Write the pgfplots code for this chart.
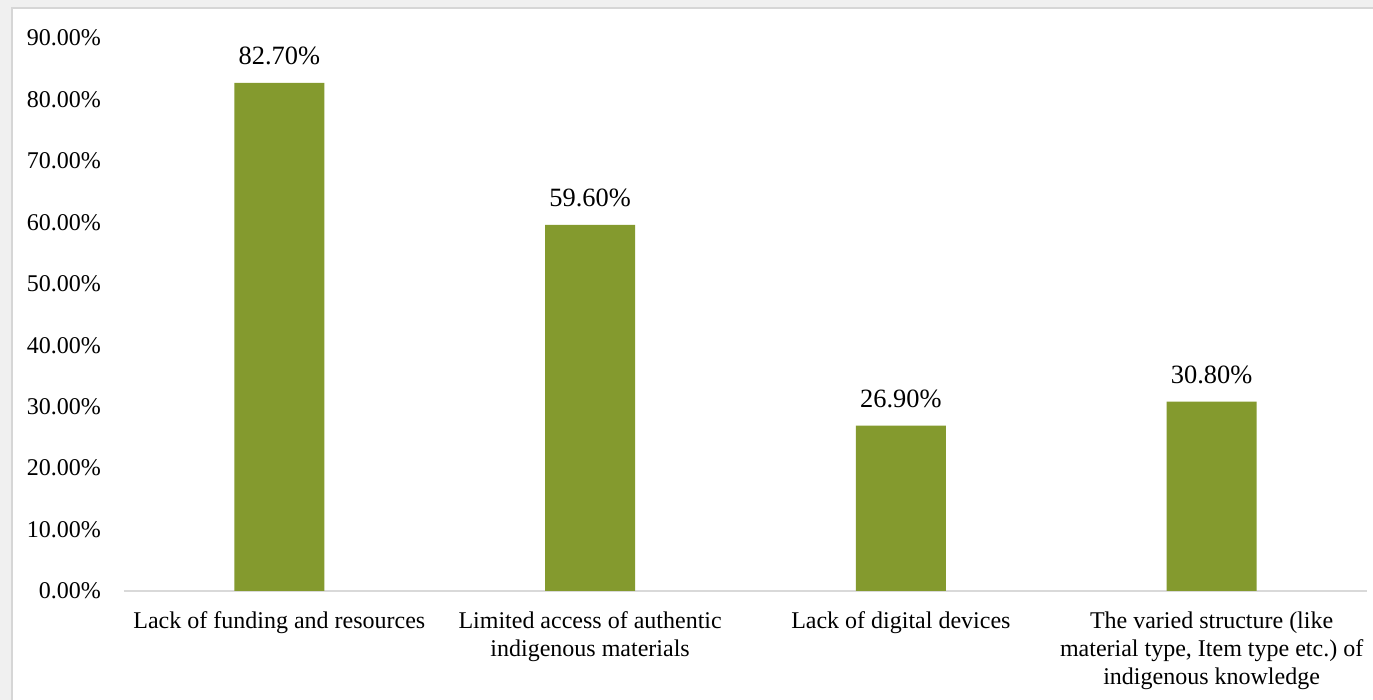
\documentclass[border=0pt]{standalone}
\usepackage{fontspec}
\setmainfont{Liberation Serif}
\usepackage{pgfplots}
\pgfplotsset{compat=1.18}
\definecolor{barcol}{RGB}{132,154,46}
\definecolor{axcol}{RGB}{217,217,217}
\definecolor{bgcol}{RGB}{240,240,240}
\definecolor{bordercol}{RGB}{214,214,214}
\begin{document}
\begin{tikzpicture}
\useasboundingbox (-62pt,-54.5pt) rectangle (624.5pt,295.5pt);
\fill[bgcol] (-62pt,-54.5pt) rectangle (624.5pt,295.5pt);
\filldraw[fill=white,draw=bordercol,line width=1pt] (-56pt,-60pt) rectangle (630pt,291.5pt);
\begin{axis}[
  at={(0pt,0pt)}, anchor=south west,
  scale only axis,
  width=621.5pt, height=276.5pt,
  ybar, bar width=45pt,
  xmin=-0.5, xmax=3.5,
  ymin=0, ymax=90,
  ytick={0,10,20,30,40,50,60,70,80,90},
  yticklabels={0.00\%,10.00\%,20.00\%,30.00\%,40.00\%,50.00\%,60.00\%,70.00\%,80.00\%,90.00\%},
  xtick=data,
  xticklabels={Lack of funding and resources,
    {Limited access of authentic\\indigenous materials},
    Lack of digital devices,
    {The varied structure (like\\material type, Item type etc.)\ of\\indigenous knowledge}},
  major tick length=0pt,
  axis x line*=bottom,
  axis y line*=left,
  x axis line style={draw=axcol, line width=1pt},
  y axis line style={draw=none},
  ytick style={draw=none}, xtick style={draw=none},
  yticklabel style={font=\fontsize{12}{14}\selectfont, anchor=east, xshift=-8pt},
  xticklabel style={font=\fontsize{12}{14}\selectfont, align=center, anchor=north, yshift=-7pt},
  /pgf/number format/assume math mode=true,
  nodes near coords={\pgfmathprintnumber[fixed,fixed zerofill,precision=2]{\pgfplotspointmeta}\%},
  every node near coord/.append style={font=\fontsize{13.2}{15}\selectfont, text=black, yshift=5.5pt},
  clip=false,
]
\addplot[fill=barcol, draw=none] coordinates {(0,82.7) (1,59.6) (2,26.9) (3,30.8)};
\end{axis}
\end{tikzpicture}
\end{document}
